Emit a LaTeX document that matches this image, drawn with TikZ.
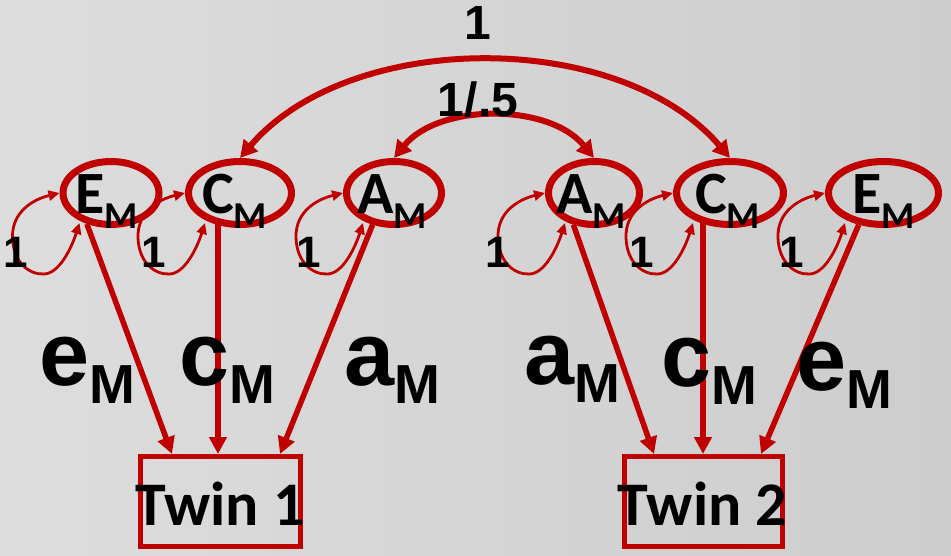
\documentclass[tikz,border=0pt]{standalone}
\usepackage{fontspec}
\setmainfont{Liberation Sans}
\newfontfamily\calfont{Carlito}
\newfontfamily\arialfont{Liberation Sans}
\usetikzlibrary{arrows.meta,shapes.geometric,calc}
\definecolor{pathred}{HTML}{C00000}
\definecolor{bgA}{HTML}{DDDDDD}
\definecolor{bgB}{HTML}{CDCDCD}
\tikzset{
  latent/.style={ellipse, draw=pathred, line width=7pt, inner sep=0pt, minimum height=63pt},
  twinbox/.style={rectangle, draw=pathred, line width=5pt, inner sep=0pt, minimum width=160pt, minimum height=90pt},
  pathline/.style={draw=pathred, line width=5.5pt, -{Triangle[length=17pt,width=17pt]}},
  covline/.style={draw=pathred, line width=6pt, {Triangle[length=17pt,width=18pt]}-{Triangle[length=17pt,width=18pt]}},
  loopline/.style={draw=pathred, line width=2.8pt, {Triangle[length=11pt,width=10pt]}-{Triangle[length=11pt,width=10pt]}},
  lab/.style={inner sep=0pt, anchor=base west, text=black},
  num/.style={inner sep=0pt, anchor=base, text=black, font=\arialfont\bfseries\fontsize{44}{44}\selectfont},
  topnum/.style={inner sep=0pt, anchor=base, text=black, font=\arialfont\bfseries\fontsize{48}{48}\selectfont},
  twinlab/.style={inner sep=0pt, anchor=base, text=black, font=\calfont\bfseries\fontsize{62}{62}\selectfont},
}
\newcommand\varlab[1]{\calfont\bfseries\fontsize{60}{60}\selectfont #1\raisebox{-15pt}{\fontsize{38}{38}\selectfont M}}
\newcommand\pathlab[1]{\arialfont\bfseries\fontsize{90}{90}\selectfont #1\raisebox{-18pt}{\fontsize{55}{55}\selectfont M}}
\newcommand\varloop[1]{%
  \draw[loopline] (#1.west) .. controls ($(#1.west)+(-25,6)$) and ($(#1.west)+(-48,18)$) .. ($(#1.west)+(-47,45)$)
    .. controls ($(#1.west)+(-46,70)$) and ($(#1.west)+(-30,82)$) .. ($(#1.west)+(-15,81)$)
    .. controls ($(#1.west)+(0,80)$) and ($(#1.west)+(12,55)$) .. ($(#1.west)+(20,30)$);}
\begin{document}
\begin{tikzpicture}[x=1pt,y=-1pt]
\shade[left color=bgA, right color=bgB] (0,0) rectangle (951,556);
% latent variables
\node[latent, minimum width=96pt]  (E1) at (111,193) {};
\node[latent, minimum width=103pt] (C1) at (240,193) {};
\node[latent, minimum width=95pt]  (A1) at (394,193) {};
\node[latent, minimum width=91pt]  (A2) at (594,193) {};
\node[latent, minimum width=107pt] (C2) at (730,193) {};
\node[latent, minimum width=110pt] (E2) at (883.5,193) {};
% twin boxes
\node[twinbox] (T1) at (220.5,501.5) {};
\node[twinbox, minimum width=158pt] (T2) at (703.5,501.5) {};
\coordinate (t1e) at ($(T1.north)+(-48.5,0)$);
\coordinate (t1c) at ($(T1.north)+(-2.5,0)$);
\coordinate (t1a) at ($(T1.north)+(59.5,0)$);
\coordinate (t2a) at ($(T2.north)+(-49.5,0)$);
\coordinate (t2c) at ($(T2.north)+(-0.5,0)$);
\coordinate (t2e) at ($(T2.north)+(57.5,0)$);
% paths
\draw[pathline] (E1.-128) -- (t1e);
\draw[pathline] ($(C1.south -| t1c)+(0,-6)$) -- (t1c);
\draw[pathline] (A1.-124.5) -- (t1a);
\draw[pathline] (A2.-123) -- (t2a);
\draw[pathline] ($(C2.south -| t2c)+(0,-6)$) -- (t2c);
\draw[pathline] (E2.-128) -- (t2e);
% covariances
\draw[covline] (C1.north) .. controls ($(C1.north)+(110,-129)$) and ($(C2.north)+(-110,-129)$) .. (C2.north);
\draw[covline] (A1.north) .. controls ($(A1.north)+(45,-55)$) and ($(A2.north)+(-45,-55)$) .. (A2.north);
% variance loops
\varloop{E1}
\varloop{C1}
\varloop{A1}
\varloop{A2}
\varloop{C2}
\varloop{E2}
% labels of latent variables
\node[lab] (lE1) at (75,214) {\varlab{E}};
\node[lab] (lC1) at (202,214) {\varlab{C}};
\node[lab] (lA1) at (357,214) {\varlab{A}};
\node[lab] (lA2) at (556,214) {\varlab{A}};
\node[lab] (lC2) at (695,214) {\varlab{C}};
\node[lab] (lE2) at (852,214) {\varlab{E}};
% path labels
\node[lab] (pe1) at (39.5,385) {\pathlab{e}};
\node[lab] (pc1) at (179.5,385) {\pathlab{c}};
\node[lab] (pa1) at (344.5,385) {\pathlab{a}};
\node[lab] (pa2) at (524.5,384) {\pathlab{a}};
\node[lab] (pc2) at (661.5,386) {\pathlab{c}};
\node[lab] (pe2) at (796.5,390) {\pathlab{e}};
% variance numbers
\node[num] (n1) at (15.5,268) {1};
\node[num] (n2) at (153.5,268) {1};
\node[num] (n3) at (308.5,268) {1};
\node[num] (n4) at (498,268) {1};
\node[num] (n5) at (642,268) {1};
\node[num] (n6) at (792,268) {1};
% covariance numbers
\node[topnum] (k1) at (477.5,40) {1};
\node[topnum] (k2) at (478,117) {1/.5};
% twin labels
\node[twinlab] (lt1) at (220,525) {Twin 1};
\node[twinlab] (lt2) at (702.5,525) {Twin 2};
\end{tikzpicture}
\end{document}
